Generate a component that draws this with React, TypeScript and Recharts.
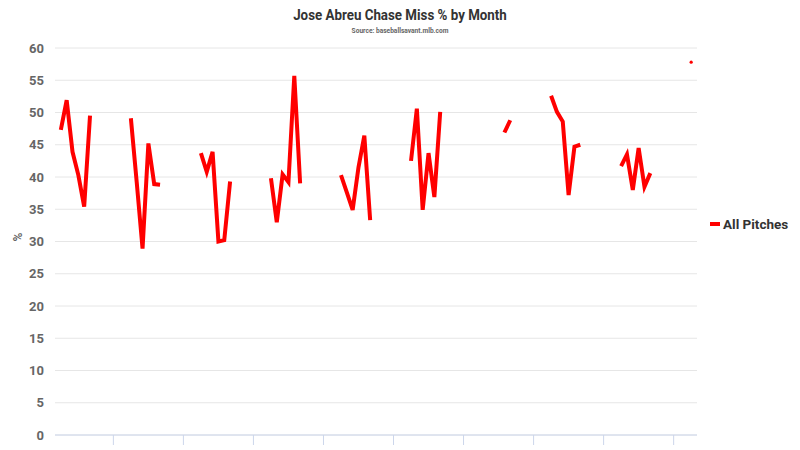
import React from 'react';
import { LineChart, Line, XAxis, YAxis, CartesianGrid, Legend } from 'recharts';

// Chase miss % per month, Apr..Sep of each season (null = no games)
const seasons = [2014, 2015, 2016, 2017, 2018, 2019, 2020, 2021, 2022, 2023];
const seasonMonths = ['Apr', 'May', 'Jun', 'Jul', 'Aug', 'Sep'];

const miss2014 = [47.3, 51.9, 43.9, 40.3, 35.4, 49.5];
const miss2015 = [49.1, 39.2, 28.9, 45.2, 38.9, 38.8];
const miss2016 = [43.7, 40.8, 43.9, 30.0, 30.2, 39.3];
const miss2017 = [39.8, 33.0, 40.4, 39.2, 55.7, 39.0];
const miss2018 = [40.3, 37.6, 34.9, 41.5, 46.4, 33.3];
const miss2019 = [42.5, 50.6, 34.9, 43.7, 36.9, 50.1];
const miss2020 = [null, null, null, null, 46.9, 48.8];
const miss2021 = [52.6, 50.1, 48.6, 37.2, 44.7, 45.0];
const miss2022 = [41.7, 43.5, 38.0, 44.5, 38.5, 40.6];
const miss2023 = [57.8];

const seasonValues = [miss2014, miss2015, miss2016, miss2017, miss2018, miss2019, miss2020, miss2021, miss2022, miss2023];

const yTicks = [0, 5, 10, 15, 20, 25, 30, 35, 40, 45, 50, 55, 60];
// January of each year, counted in months from Jan 2014
const yearTicks = [12, 24, 36, 48, 60, 72, 84, 96, 108];

// monthly timeline Mar 2014 .. May 2023, gaps are null so the line breaks
const data: { t: number; label: string; value: number | null }[] = [];
for (let t = 2; t <= 112; t++) {
  const year = seasons[0] + Math.floor(t / 12);
  const m = t % 12;
  const si = seasons.indexOf(year);
  const mi = m - 3;
  let value: number | null = null;
  if (si >= 0 && mi >= 0 && mi < seasonMonths.length) {
    const v = seasonValues[si][mi];
    value = v === undefined ? null : v;
  }
  data.push({ t, label: `${seasonMonths[mi] ?? m} ${year}`, value });
}

const RED = '#ff0000';
const FONT = 'Roboto, "Noto Sans", sans-serif';

const IsolatedDot = (props: any) => {
  const { cx, cy, index } = props;
  const prev = data[index - 1];
  const next = data[index + 1];
  const alone = data[index].value != null && (!prev || prev.value == null) && (!next || next.value == null);
  if (!alone || cx == null || cy == null) return <g key={index} />;
  return <circle key={index} cx={cx} cy={cy} r={1.6} fill={RED} />;
};

const LegendBox = () => (
  <div style={{ display: 'flex', alignItems: 'center', fontFamily: FONT, fontWeight: 700, fontSize: 13.5, color: '#333' }}>
    <span style={{ display: 'inline-block', width: 10, height: 4, background: RED, marginRight: 3 }} />
    <span>All Pitches</span>
  </div>
);

export default function App() {
  return (
    <div style={{ position: 'absolute', left: 0, top: 0, width: 800, height: 450, background: '#fff' }}>
      <div
        style={{
          position: 'absolute', top: 5, left: 0, width: 800, textAlign: 'center',
          fontFamily: FONT, fontWeight: 700, fontSize: 15.5, color: '#333',
          transform: 'scaleX(0.86)', lineHeight: '20px',
        }}
      >
        Jose Abreu Chase Miss % by Month
      </div>
      <div
        style={{
          position: 'absolute', top: 26, left: 0, width: 800, textAlign: 'center',
          fontFamily: FONT, fontWeight: 700, fontSize: 7.5, color: '#666',
          transform: 'scaleX(0.88)', lineHeight: '10px',
        }}
      >
        Source: baseballsavant.mlb.com
      </div>
      <LineChart width={800} height={450} data={data} margin={{ top: 48, right: 13, bottom: 0, left: 10 }}>
        <CartesianGrid horizontal vertical={false} stroke="#e6e6e6" />
        <XAxis
          dataKey="t"
          type="number"
          domain={[2, 112]}
          ticks={yearTicks}
          tickFormatter={() => ''}
          height={15}
          tickSize={10}
          axisLine={{ stroke: '#ccd6eb' }}
          tickLine={{ stroke: '#ccd6eb' }}
          allowDataOverflow
        />
        <YAxis
          domain={[0, 60]}
          ticks={yTicks}
          width={45}
          axisLine={false}
          tickLine={false}
          tickMargin={5}
          tick={{ fill: '#666', fontSize: 13, fontWeight: 700, fontFamily: FONT }}
          label={{ value: '%', angle: -90, position: 'insideLeft', offset: 8, fill: '#666', fontSize: 12, fontWeight: 700, fontFamily: FONT }}
        />
        <Legend
          layout="horizontal"
          align="right"
          verticalAlign="middle"
          wrapperStyle={{ left: 710, top: 216, width: 90 }}
          content={() => <LegendBox />}
        />
        <Line
          type="linear"
          dataKey="value"
          name="All Pitches"
          stroke={RED}
          strokeWidth={4}
          dot={IsolatedDot}
          activeDot={false}
          connectNulls={false}
          isAnimationActive={false}
        />
      </LineChart>
    </div>
  );
}
